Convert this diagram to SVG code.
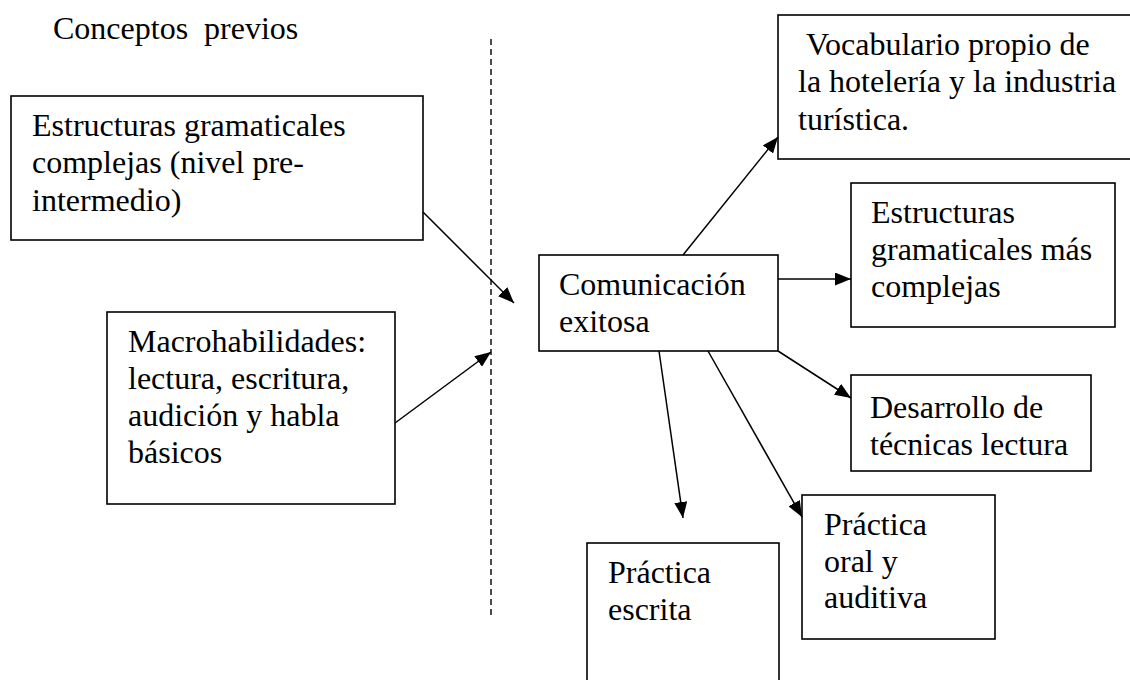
<svg xmlns="http://www.w3.org/2000/svg" width="1130" height="680" viewBox="0 0 1130 680">
<style>
  .box { fill: #ffffff; stroke: #000000; stroke-width: 1.6; }
  .t { font-family: "Liberation Serif", "Times New Roman", serif; font-size: 32px; fill: #000000; }
  .conn { stroke: #000000; stroke-width: 1.5; fill: none; }
  .dash { stroke: #000000; stroke-width: 1.4; stroke-dasharray: 6 4; fill: none; }
</style>
<defs>
  <marker id="arrow" markerUnits="userSpaceOnUse" markerWidth="16" markerHeight="13" viewBox="0 0 16 13" refX="16" refY="6.5" orient="auto">
    <path d="M0,0 L16,6.5 L0,13 z" fill="#000000"/>
  </marker>
</defs>
<rect width="1130" height="680" fill="#ffffff"/>

<g id="title">
  <text class="t" x="53" y="39" xml:space="preserve">Conceptos  previos</text>
</g>

<g id="divider">
  <line class="dash" x1="491" y1="39" x2="491" y2="615"/>
</g>

<g id="node-estructuras-complejas">
  <rect class="box" x="11" y="96" width="412" height="144"/>
  <text class="t" x="32" y="136">Estructuras gramaticales</text>
  <text class="t" x="32" y="173">complejas (nivel pre-</text>
  <text class="t" x="32" y="211">intermedio)</text>
</g>

<g id="node-macrohabilidades">
  <rect class="box" x="107" y="312" width="288" height="192"/>
  <text class="t" x="128" y="352">Macrohabilidades:</text>
  <text class="t" x="128" y="389">lectura, escritura,</text>
  <text class="t" x="128" y="426">audición y habla</text>
  <text class="t" x="128" y="463">básicos</text>
</g>

<g id="node-comunicacion">
  <rect class="box" x="539" y="255" width="239" height="96"/>
  <text class="t" x="559" y="295">Comunicación</text>
  <text class="t" x="559" y="332">exitosa</text>
</g>

<g id="node-vocabulario">
  <rect class="box" x="778" y="15" width="360" height="144"/>
  <text class="t" x="806" y="55">Vocabulario propio de</text>
  <text class="t" x="798" y="92">la hotelería y la industria</text>
  <text class="t" x="798" y="130">turística.</text>
</g>

<g id="node-estructuras-mas">
  <rect class="box" x="851" y="183" width="264" height="144"/>
  <text class="t" x="871" y="223">Estructuras</text>
  <text class="t" x="871" y="260">gramaticales más</text>
  <text class="t" x="871" y="297">complejas</text>
</g>

<g id="node-desarrollo">
  <rect class="box" x="851" y="375" width="240" height="96"/>
  <text class="t" x="870" y="418">Desarrollo de</text>
  <text class="t" x="870" y="455">técnicas lectura</text>
</g>

<g id="node-practica-oral">
  <rect class="box" x="802" y="495" width="193" height="144"/>
  <text class="t" x="824" y="535">Práctica</text>
  <text class="t" x="824" y="572">oral y</text>
  <text class="t" x="824" y="608">auditiva</text>
</g>

<g id="node-practica-escrita">
  <rect class="box" x="587" y="543" width="192" height="150"/>
  <text class="t" x="608" y="583">Práctica</text>
  <text class="t" x="608" y="620">escrita</text>
</g>

<g id="connectors">
  <line class="conn" x1="423" y1="212" x2="514" y2="303" marker-end="url(#arrow)"/>
  <line class="conn" x1="395" y1="423" x2="491" y2="352" marker-end="url(#arrow)"/>
  <line class="conn" x1="683" y1="255" x2="778" y2="137" marker-end="url(#arrow)"/>
  <line class="conn" x1="778" y1="279" x2="851" y2="279" marker-end="url(#arrow)"/>
  <line class="conn" x1="778" y1="351" x2="851" y2="398" marker-end="url(#arrow)"/>
  <line class="conn" x1="708" y1="351" x2="802" y2="517" marker-end="url(#arrow)"/>
  <line class="conn" x1="659" y1="351" x2="683" y2="518" marker-end="url(#arrow)"/>
</g>
</svg>
